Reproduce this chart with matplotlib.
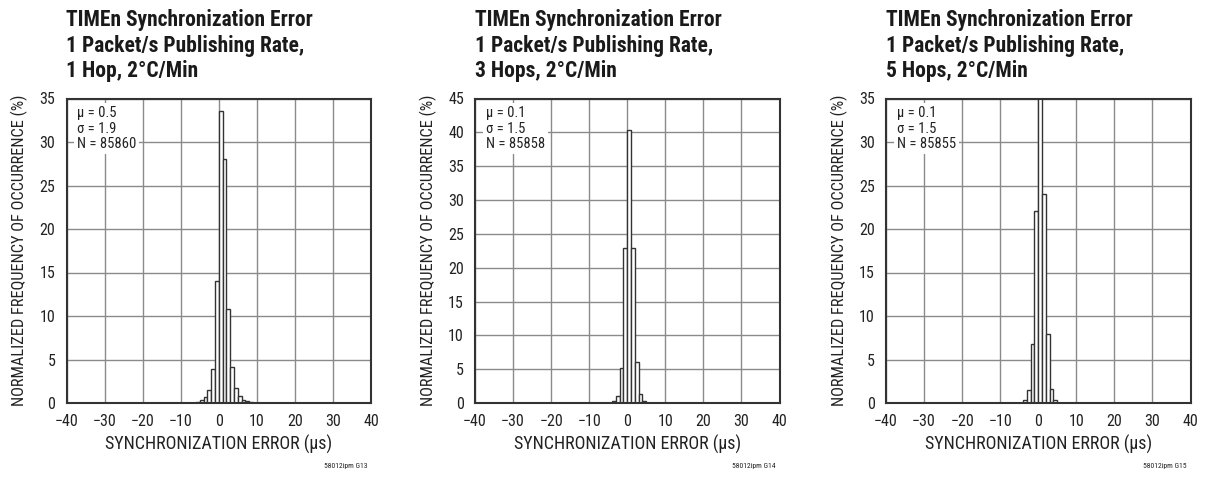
import matplotlib
matplotlib.use("Agg")
import matplotlib.pyplot as plt

# ---------------- data ----------------
titles = [
    "TIMEn Synchronization Error\n1 Packet/s Publishing Rate,\n1 Hop, 2°C/Min",
    "TIMEn Synchronization Error\n1 Packet/s Publishing Rate,\n3 Hops, 2°C/Min",
    "TIMEn Synchronization Error\n1 Packet/s Publishing Rate,\n5 Hops, 2°C/Min",
]
stats = [
    "µ = 0.5\nσ = 1.9\nN = 85860",
    "µ = 0.1\nσ = 1.5\nN = 85858",
    "µ = 0.1\nσ = 1.5\nN = 85855",
]
codes = ["58012ipm G13", "58012ipm G14", "58012ipm G15"]

bins1 = [-7, -6, -5, -4, -3, -2, -1, 0, 1, 2, 3, 4, 5, 6, 7, 8]
vals1 = [0.05, 0.1, 0.3, 0.7, 1.5, 3.9, 14.0, 33.6, 28.0, 10.8, 4.1, 1.7, 0.8, 0.4, 0.2, 0.1]

bins2 = [-4, -3, -2, -1, 0, 1, 2, 3, 4]
vals2 = [0.3, 1.0, 5.2, 22.9, 40.4, 22.9, 6.0, 1.4, 0.3]

bins3 = [-4, -3, -2, -1, 0, 1, 2, 3, 4]
vals3 = [0.4, 1.5, 6.8, 22.1, 36.0, 24.0, 7.9, 1.6, 0.4]

ymaxes = [35, 45, 35]
xticks = [-40, -30, -20, -10, 0, 10, 20, 30, 40]
xlabel = "SYNCHRONIZATION ERROR (µs)"
ylabel = "NORMALIZED FREQUENCY OF OCCURRENCE (%)"

# ---------------- fonts ----------------
plt.rcParams["font.family"] = ["Roboto Condensed", "Archivo Narrow", "DejaVu Sans"]

W, H = 1206, 478
fig = plt.figure(figsize=(W / 100, H / 100), dpi=100)
fig.patch.set_facecolor("white")

lefts = [66.5, 475, 886]
top_px, bot_px = 98.5, 403
width_px = 304.5
txtc = "#222222"
datasets = [(bins1, vals1), (bins2, vals2), (bins3, vals3)]

for i in range(3):
    L = lefts[i]
    ax = fig.add_axes([L / W, (H - bot_px) / H, width_px / W, (bot_px - top_px) / H])
    b, v = datasets[i]
    ax.bar(b, v, width=1.0, align="edge", facecolor="white",
           edgecolor="#333333", linewidth=1.0, zorder=3)
    ax.set_xlim(-40, 40)
    ax.set_ylim(0, ymaxes[i])
    ax.set_xticks(xticks)
    ax.set_xticklabels([str(t).replace("-", "−") for t in xticks])
    ax.set_yticks(range(0, ymaxes[i] + 1, 5))
    ax.grid(True, color="#8a8a8a", linewidth=1.0, zorder=0)
    ax.set_axisbelow(True)
    ax.tick_params(length=0, labelsize=11.5, colors=txtc)
    ax.tick_params(axis="x", pad=8)
    ax.tick_params(axis="y", pad=8)
    for s in ax.spines.values():
        s.set_color("#333333")
        s.set_linewidth(1.5)
        s.set_zorder(5)
    ax.set_xlabel(xlabel, fontsize=13, color=txtc)
    ax.xaxis.set_label_coords(0.5, -0.105)
    ax.set_ylabel(ylabel, fontsize=11.8, color=txtc)
    ax.yaxis.set_label_coords(-0.125, 0.5)
    ax.text(0.035, 0.975, stats[i], transform=ax.transAxes, va="top", ha="left",
            fontsize=10.5, color=txtc, linespacing=1.15, zorder=6,
            bbox=dict(facecolor="white", edgecolor="none", pad=2))
    fig.text(L / W, 1 - 9 / H, titles[i], ha="left", va="top", fontsize=15.5,
             fontweight="bold", color="#1a1a1a", linespacing=1.22)
    fig.text((L + width_px - 4) / W, 1 - 466 / H, codes[i], ha="right", va="center",
             fontsize=5.5, color=txtc)

fig.savefig("out.png", dpi=100, facecolor="white")
